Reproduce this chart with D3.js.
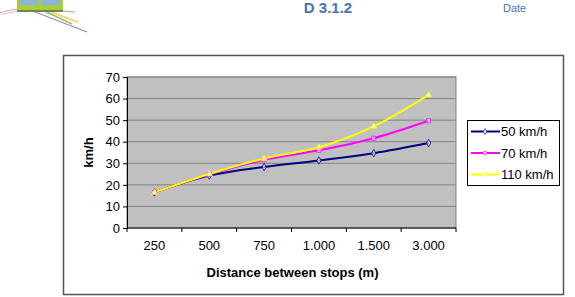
<!DOCTYPE html>
<html>
<head>
<meta charset="utf-8">
<script src="https://cdnjs.cloudflare.com/ajax/libs/d3/7.8.5/d3.min.js"></script>
<style>
  body { margin: 0; background: #fff; }
  svg { display: block; font-family: "Liberation Sans", Arial, sans-serif; }
</style>
</head>
<body>
<div id="chart"></div>
<script>
// chart data
var categories = ["250", "500", "750", "1.000", "1.500", "3.000"];
var yTicks = [0, 10, 20, 30, 40, 50, 60, 70];
var seriesNames = ["50 km/h", "70 km/h", "110 km/h"];
var speed50 = [16.5, 24.3, 28.3, 31.3, 34.7, 39.4];
var speed70 = [16.5, 24.8, 31.6, 36.0, 41.6, 49.7];
var speed110 = [16.5, 25.0, 32.2, 37.4, 47.1, 61.7];

var colors = ["#000080", "#ff00ff", "#ffff00"];
var symbols = [d3.symbolDiamond, d3.symbolSquare, d3.symbolTriangle];

var svgWidth = 575;
var svgHeight = 297;

var svg = d3.select("#chart")
    .append("svg")
    .attr("width", svgWidth)
    .attr("height", svgHeight);

// page header bits (logo, deliverable id, date)
var logo = svg.append("g");
logo.append("path").attr("d", "M0,13 Q12,8 25,10").attr("stroke", "#f29a9a").attr("fill", "none").attr("stroke-width", 1);
logo.append("path").attr("d", "M2,15 Q14,10 27,12").attr("stroke", "#f29a9a").attr("fill", "none").attr("stroke-width", 0.8);
logo.append("line").attr("x1", 30).attr("y1", 10).attr("x2", 87).attr("y2", 32).attr("stroke", "#9b6fc0").attr("stroke-width", 1);
logo.append("line").attr("x1", 45).attr("y1", 10).attr("x2", 78).attr("y2", 22).attr("stroke", "#f5d77a").attr("stroke-width", 2);
logo.append("line").attr("x1", 40).attr("y1", 9).attr("x2", 72).attr("y2", 24).attr("stroke", "#8fc47a").attr("stroke-width", 1.5);
logo.append("line").attr("x1", 50).attr("y1", 10).attr("x2", 75).attr("y2", 12).attr("stroke", "#e88a8a").attr("stroke-width", 1);
logo.append("rect").attr("x", 17).attr("y", 0).attr("width", 46).attr("height", 10).attr("fill", "#a8cc3c");
logo.append("rect").attr("x", 20).attr("y", 0).attr("width", 18).attr("height", 5).attr("fill", "#8ab4dc");
logo.append("rect").attr("x", 41).attr("y", 0).attr("width", 19).attr("height", 5).attr("fill", "#8ab4dc");
logo.append("rect").attr("x", 17).attr("y", 10).attr("width", 46).attr("height", 2).attr("fill", "#6a8a4a");

svg.append("text")
    .attr("x", 328).attr("y", 13)
    .attr("text-anchor", "middle")
    .attr("font-size", 15).attr("font-weight", "bold")
    .attr("fill", "#4a70b5")
    .text("D 3.1.2");

svg.append("text")
    .attr("x", 503).attr("y", 12)
    .attr("font-size", 11)
    .attr("fill", "#4a70b5")
    .text("Date");

// chart frame
svg.append("rect")
    .attr("x", 63.5).attr("y", 55.5)
    .attr("width", 500).attr("height", 239)
    .attr("fill", "#fff")
    .attr("stroke", "#555")
    .attr("stroke-width", 1.5);

var plot = { left: 127, top: 77, right: 456, bottom: 228 };
var width = plot.right - plot.left;
var height = plot.bottom - plot.top;

var chartGroup = svg.append("g")
    .attr("transform", `translate(${plot.left}, ${plot.top})`);

var xScale = d3.scaleBand()
    .domain(categories)
    .range([0, width]);

var yScale = d3.scaleLinear()
    .domain([0, 70])
    .range([height, 0]);

// plot background + gridlines
chartGroup.append("rect")
    .attr("width", width).attr("height", height)
    .attr("fill", "#c0c0c0")
    .attr("stroke", "#808080");

chartGroup.selectAll(".grid")
    .data(yTicks.slice(1))
    .enter()
    .append("line")
    .attr("x1", 0).attr("x2", width)
    .attr("y1", d => yScale(d)).attr("y2", d => yScale(d))
    .attr("stroke", "#808080")
    .attr("stroke-width", 1);

// axes
var leftAxis = d3.axisLeft(yScale).tickValues(yTicks).tickSize(4).tickPadding(3);
var yAxisG = chartGroup.append("g").call(leftAxis);
yAxisG.select(".domain").attr("stroke", "#000");
yAxisG.selectAll("text").attr("font-size", 13).attr("font-family", "Liberation Sans, Arial").attr("fill", "#000");

var bottomAxis = d3.axisBottom(xScale).tickSize(0).tickPadding(13);
var xAxisG = chartGroup.append("g")
    .attr("transform", `translate(0, ${height})`)
    .call(bottomAxis);
xAxisG.select(".domain").attr("stroke", "#000").attr("d", `M0,0H${width}`);
xAxisG.selectAll("text").attr("font-size", 13).attr("font-family", "Liberation Sans, Arial").attr("fill", "#000");

// tick marks between categories
var bounds = categories.map(c => xScale(c)).concat([width]);
xAxisG.selectAll(".sep")
    .data(bounds)
    .enter()
    .append("line")
    .attr("x1", d => d).attr("x2", d => d)
    .attr("y1", 0).attr("y2", 4)
    .attr("stroke", "#000");

// axis titles
svg.append("text")
    .attr("x", (plot.left + plot.right) / 2 + 1).attr("y", 277)
    .attr("text-anchor", "middle")
    .attr("font-size", 13).attr("font-weight", "bold")
    .text("Distance between stops (m)");

svg.append("text")
    .attr("transform", `translate(93, ${(plot.top + plot.bottom) / 2}) rotate(-90)`)
    .attr("text-anchor", "middle")
    .attr("font-size", 13).attr("font-weight", "bold")
    .text("km/h");

// lines
var allSeries = [speed50, speed70, speed110];
var line = d3.line()
    .x((d, i) => xScale(categories[i]) + xScale.bandwidth() / 2)
    .y(d => yScale(d))
    .curve(d3.curveCatmullRom.alpha(0.5));

allSeries.forEach(function (values, s) {
    chartGroup.append("path")
        .datum(values)
        .attr("d", line)
        .attr("fill", "none")
        .attr("stroke", colors[s])
        .attr("stroke-width", 2);
});

allSeries.forEach(function (values, s) {
    chartGroup.selectAll(".m" + s)
        .data(values)
        .enter()
        .append("path")
        .attr("transform", (d, i) => `translate(${xScale(categories[i]) + xScale.bandwidth() / 2}, ${yScale(d)})`)
        .attr("d", d3.symbol().type(symbols[s]).size(16))
        .attr("fill", "#fff")
        .attr("fill-opacity", 0.6)
        .attr("stroke", colors[s])
        .attr("stroke-width", 0.8);
});

// legend
var legend = svg.append("g");
legend.append("rect")
    .attr("x", 467.5).attr("y", 120.5)
    .attr("width", 92).attr("height", 65)
    .attr("fill", "#fff")
    .attr("stroke", "#000");

seriesNames.forEach(function (name, s) {
    var y = 131.5 + s * 21.5;
    legend.append("line")
        .attr("x1", 471).attr("x2", 500)
        .attr("y1", y).attr("y2", y)
        .attr("stroke", colors[s])
        .attr("stroke-width", 2);
    legend.append("path")
        .attr("transform", `translate(485, ${y})`)
        .attr("d", d3.symbol().type(symbols[s]).size(10))
        .attr("fill", "#fff")
        .attr("stroke", colors[s])
        .attr("stroke-width", 0.6);
    legend.append("text")
        .attr("x", 501).attr("y", y + 4.5)
        .attr("font-size", 13)
        .text(name);
});
</script>
</body>
</html>
